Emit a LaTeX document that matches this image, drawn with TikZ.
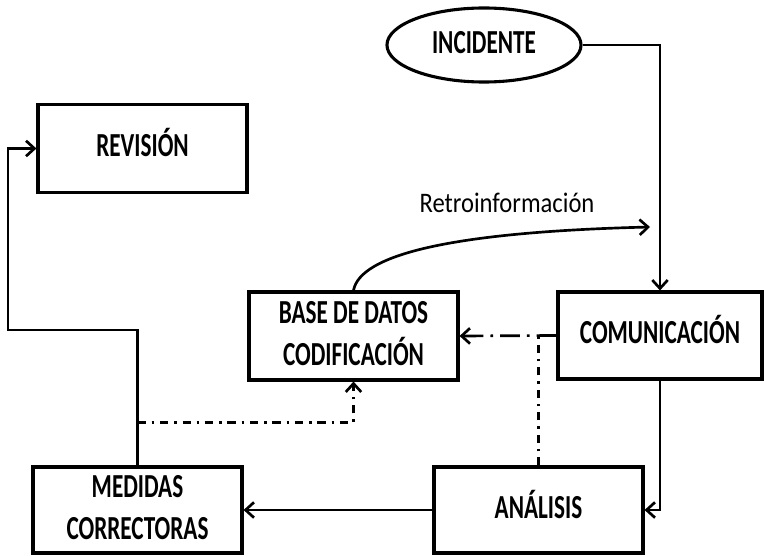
\documentclass[tikz,border=0pt]{standalone}
\usepackage{fontspec}
\setmainfont{Carlito}
\usepackage{tikz}
\usetikzlibrary{calc}
\usetikzlibrary{positioning}
\usetikzlibrary{shapes.geometric}
\usetikzlibrary{arrows.meta}
\newcommand{\etiq}[1]{\scalebox{1}[1.45]{\fontsize{16.5}{20.5}\selectfont\bfseries\begin{tabular}{@{}c@{}}#1\end{tabular}}}
\tikzstyle{caja} = [draw, rectangle, line width=2.2pt, minimum width=5.225cm, minimum height=2.2cm, inner sep=0pt]
\tikzstyle{linea} = [line width=1.9pt]
\tikzstyle{flecha} = [line width=1.9pt, -{Straight Barb[length=6pt,width=11pt]}]
\tikzstyle{rayapunto} = [line width=1.9pt, dash pattern=on 6pt off 4pt on 2pt off 4pt]
\tikzstyle{rayalarga} = [line width=1.9pt, dash pattern=on 14pt off 5pt on 2pt off 5pt]

\begin{document}
\begin{tikzpicture}[x=0.025cm, y=-0.025cm]
    \useasboundingbox (0,0) rectangle (764,557);

    \node[draw, ellipse, line width=2.2pt, minimum width=4.85cm, minimum height=1.85cm, inner sep=0pt](inc) at (484,45) {\etiq{INCIDENTE}};
    \node[caja](rev) at (142.5,148.5) {\etiq{REVISIÓN}};
    \node[caja](base) at (353.5,336) {\etiq{BASE DE DATOS\\CODIFICACIÓN}};
    \node[caja, minimum width=5.1cm, minimum height=2.175cm](com) at (660,335.5) {\etiq{COMUNICACIÓN}};
    \node[caja, minimum height=2.15cm](med) at (137.5,510) {\etiq{MEDIDAS\\CORRECTORAS}};
    \node[caja, minimum height=2.15cm](ana) at (538.5,510) {\etiq{ANÁLISIS}};

    \coordinate (codo) at (8,330);
    \coordinate (retro) at (650,227);
    \coordinate (mcruce) at ($(med.north)+(0,-43)$);

    \draw[flecha](inc.east) -| (com.north);
    \draw[flecha](com.south) |- (ana.east);
    \draw[flecha](ana.west) -- (med.east);
    \draw[flecha](med.north) |- (codo) |- (rev.west);
    \draw[rayapunto, -{Straight Barb[length=6pt,width=11pt]}](mcruce) -| (base.south);
    \draw[rayalarga, -{Straight Barb[length=6pt,width=11pt]}](com.west) -- (base.east);
    \draw[rayapunto](ana.north) -- (ana.north |- base.east);
    \draw[flecha](base.north) .. controls (360,255) and (450,232) .. (retro);

    \node[draw=none](retrotxt) at (507,203) {\scalebox{1}[1.15]{\fontsize{17.5}{20}\selectfont Retroinformación}};
\end{tikzpicture}
\end{document}
